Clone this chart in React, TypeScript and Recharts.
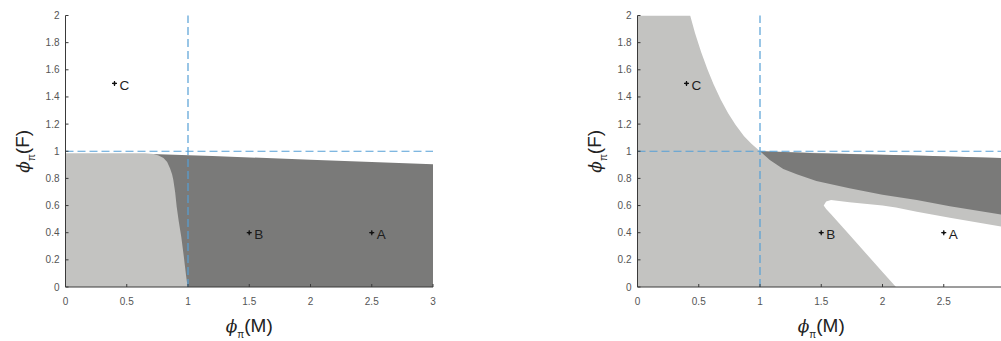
import React from "react";
import {
  ComposedChart,
  Area,
  Scatter,
  XAxis,
  YAxis,
  ReferenceLine,
  Label,
} from "recharts";

// ---- axis ticks ----
const X_TICKS = [0, 0.5, 1, 1.5, 2, 2.5, 3];
const Y_TICKS = [0, 0.2, 0.4, 0.6, 0.8, 1, 1.2, 1.4, 1.6, 1.8, 2];

// ---- marked parameter points ----
const POINTS = [
  { x: 0.4, y: 1.5, name: "C" },
  { x: 1.5, y: 0.4, name: "B" },
  { x: 2.5, y: 0.4, name: "A" },
];

// ---- left panel regions: [x, top] ----
const LEFT_DARK: number[][] = [
  [0.7, 0.98],
  [1.2, 0.965],
  [2, 0.938],
  [3, 0.905],
];
const LEFT_LIGHT: number[][] = [
  [0, 0.985],
  [0.65, 0.985],
  [0.72, 0.98],
  [0.76, 0.968],
  [0.8, 0.95],
  [0.83, 0.92],
  [0.853, 0.875],
  [0.87, 0.83],
  [0.88, 0.79],
  [0.895, 0.7],
  [0.908, 0.59],
  [0.925, 0.48],
  [0.945, 0.37],
  [0.965, 0.23],
  [0.985, 0.08],
  [0.997, 0],
];

// ---- right panel regions: [x, top] or [x, low, high] ----
const RIGHT_LIGHT: number[][] = [
  [0, 2],
  [0.43, 2],
  [0.47, 1.87],
  [0.52, 1.73],
  [0.57, 1.605],
  [0.62, 1.495],
  [0.68, 1.38],
  [0.74, 1.28],
  [0.8, 1.195],
  [0.87, 1.11],
  [0.93, 1.055],
  [1, 1.0],
  [2, 0.975],
  [3, 0.95],
];
const RIGHT_DARK: number[][] = [
  [1, 1.0, 1.0],
  [1.08, 0.935, 0.998],
  [1.19, 0.87, 0.995],
  [1.3, 0.83, 0.99],
  [1.46, 0.78, 0.986],
  [1.73, 0.727, 0.98],
  [2, 0.68, 0.975],
  [2.28, 0.64, 0.968],
  [2.55, 0.595, 0.962],
  [3, 0.53, 0.95],
];
const RIGHT_HOLE: number[][] = [
  [1.52, 0.6, 0.6],
  [1.54, 0.575, 0.63],
  [1.58, 0.535, 0.64],
  [1.73, 0.385, 0.625],
  [2, 0.11, 0.6],
  [2.11, 0, 0.585],
  [2.28, 0, 0.555],
  [2.55, 0, 0.51],
  [3, 0, 0.44],
];

const LIGHT = "#c3c3c1";
const DARK = "#7a7a79";
const GUIDE = "#56a0d6";
const AXIS = "#3a3a3a";
const TICK_TEXT = "#555";

type Row = { x: number; [k: string]: number | number[] };

function mergeSeries(series: Record<string, number[][]>): Row[] {
  const byX = new Map<number, Row>();
  for (const [key, pts] of Object.entries(series)) {
    for (const p of pts) {
      const row = byX.get(p[0]) ?? { x: p[0] };
      row[key] = p.length === 3 ? [p[1], p[2]] : p[1];
      byX.set(p[0], row);
    }
  }
  return [...byX.values()].sort((a, b) => a.x - b.x);
}

const leftData = mergeSeries({ dark: LEFT_DARK, light: LEFT_LIGHT });
const rightData = mergeSeries({ light: RIGHT_LIGHT, dark: RIGHT_DARK, hole: RIGHT_HOLE });

const W = 572;
const H = 341;

function YTick(props: any) {
  const { x, y, payload } = props;
  return (
    <g>
      <line x1={x} x2={x + 3} y1={y} y2={y} stroke={AXIS} strokeWidth={1} />
      <text
        x={x - 6}
        y={y + 3.5}
        textAnchor="end"
        fontSize={10}
        fontFamily="Liberation Sans, Arial, sans-serif"
        fill={TICK_TEXT}
      >
        {String(payload.value)}
      </text>
    </g>
  );
}

function XTick(props: any) {
  const { x, y, payload } = props;
  return (
    <g>
      <line x1={x} x2={x} y1={y} y2={y - 3} stroke={AXIS} strokeWidth={1} />
      <text
        x={x}
        y={y + 18}
        textAnchor="middle"
        fontSize={10}
        fontFamily="Liberation Sans, Arial, sans-serif"
        fill={TICK_TEXT}
      >
        {String(payload.value)}
      </text>
    </g>
  );
}

function XTitle(props: any) {
  const vb = props.viewBox ?? { x: 65.5, y: 287, width: 367.5, height: 54 };
  const cx = vb.x + vb.width / 2;
  return (
    <text
      x={cx}
      y={vb.y + 45}
      textAnchor="middle"
      fontSize={19}
      fontFamily="Liberation Sans, Arial, sans-serif"
      fill="#222"
    >
      <tspan fontStyle="italic" fontFamily="DejaVu Serif, serif" fontSize={17}>
        ϕ
      </tspan>
      <tspan fontSize={10} dy={6}>
        π
      </tspan>
      <tspan dy={-6}>(M)</tspan>
    </text>
  );
}

function YTitle(props: any) {
  const vb = props.viewBox ?? { x: 8, y: 15.5, width: 57.5, height: 271.5 };
  const tx = vb.x + 21;
  const ty = vb.y + vb.height / 2;
  return (
    <text
      x={tx}
      y={ty}
      transform={`rotate(-90, ${tx}, ${ty})`}
      textAnchor="middle"
      fontSize={19}
      fontFamily="Liberation Sans, Arial, sans-serif"
      fill="#222"
    >
      <tspan fontStyle="italic" fontFamily="DejaVu Serif, serif" fontSize={17}>
        ϕ
      </tspan>
      <tspan fontSize={10} dy={6}>
        π
      </tspan>
      <tspan dy={-6}>(F)</tspan>
    </text>
  );
}

function PointMark(props: any) {
  const { cx, cy, payload } = props;
  return (
    <g>
      <line x1={cx - 2.5} x2={cx + 2.5} y1={cy} y2={cy} stroke="#111" strokeWidth={1.2} />
      <line x1={cx} x2={cx} y1={cy - 2.5} y2={cy + 2.5} stroke="#111" strokeWidth={1.2} />
      <circle cx={cx} cy={cy} r={1.2} fill="#111" />
      <text
        x={cx + 5}
        y={cy + 6.5}
        fontSize={13.5}
        fontFamily="Liberation Sans, Arial, sans-serif"
        fill="#1e1e1e"
      >
        {payload.name}
      </text>
    </g>
  );
}

function Panel({ data, right }: { data: Row[]; right?: boolean }) {
  return (
    <ComposedChart
      width={W}
      height={H}
      data={data}
      margin={{ top: 15.5, right: 139, bottom: 0, left: 8 }}
    >
      {right ? (
        <>
          <Area dataKey="light" type="linear" fill={LIGHT} fillOpacity={1} stroke="none" connectNulls dot={false} activeDot={false} isAnimationActive={false} />
          <Area dataKey="dark" type="linear" fill={DARK} fillOpacity={1} stroke="none" connectNulls dot={false} activeDot={false} isAnimationActive={false} />
          <Area dataKey="hole" type="linear" fill="#ffffff" fillOpacity={1} stroke="none" connectNulls dot={false} activeDot={false} isAnimationActive={false} />
        </>
      ) : (
        <>
          <Area dataKey="dark" type="linear" fill={DARK} fillOpacity={1} stroke="none" connectNulls dot={false} activeDot={false} isAnimationActive={false} />
          <Area dataKey="light" type="linear" fill={LIGHT} fillOpacity={1} stroke="none" connectNulls dot={false} activeDot={false} isAnimationActive={false} />
        </>
      )}
      <ReferenceLine x={1} stroke={GUIDE} strokeWidth={1.2} strokeDasharray="8 4" />
      <ReferenceLine y={1} stroke={GUIDE} strokeWidth={1.2} strokeDasharray="8 4" />
      <Scatter data={POINTS} dataKey="y" shape={<PointMark />} isAnimationActive={false} />
      <XAxis
        dataKey="x"
        type="number"
        domain={[0, 3]}
        ticks={X_TICKS}
        allowDataOverflow
        height={54}
        tickSize={0}
        tickMargin={0}
        tickLine={false}
        axisLine={{ stroke: AXIS, strokeWidth: 1 }}
        tick={<XTick />}
        interval={0}
      >
        <Label content={<XTitle />} />
      </XAxis>
      <YAxis
        type="number"
        domain={[0, 2]}
        ticks={Y_TICKS}
        allowDataOverflow
        width={57.5}
        tickSize={0}
        tickMargin={0}
        tickLine={false}
        axisLine={{ stroke: AXIS, strokeWidth: 1 }}
        tick={<YTick />}
        interval={0}
      >
        <Label content={<YTitle />} />
      </YAxis>
    </ComposedChart>
  );
}

export default function App() {
  return (
    <div
      style={{
        position: "absolute",
        left: 0,
        top: 0,
        width: 1001,
        height: 341,
        overflow: "hidden",
        background: "#fff",
      }}
    >
      <div style={{ position: "absolute", left: 0, top: 0 }}>
        <Panel data={leftData} />
      </div>
      <div style={{ position: "absolute", left: 572, top: 0 }}>
        <Panel data={rightData} right />
      </div>
    </div>
  );
}
